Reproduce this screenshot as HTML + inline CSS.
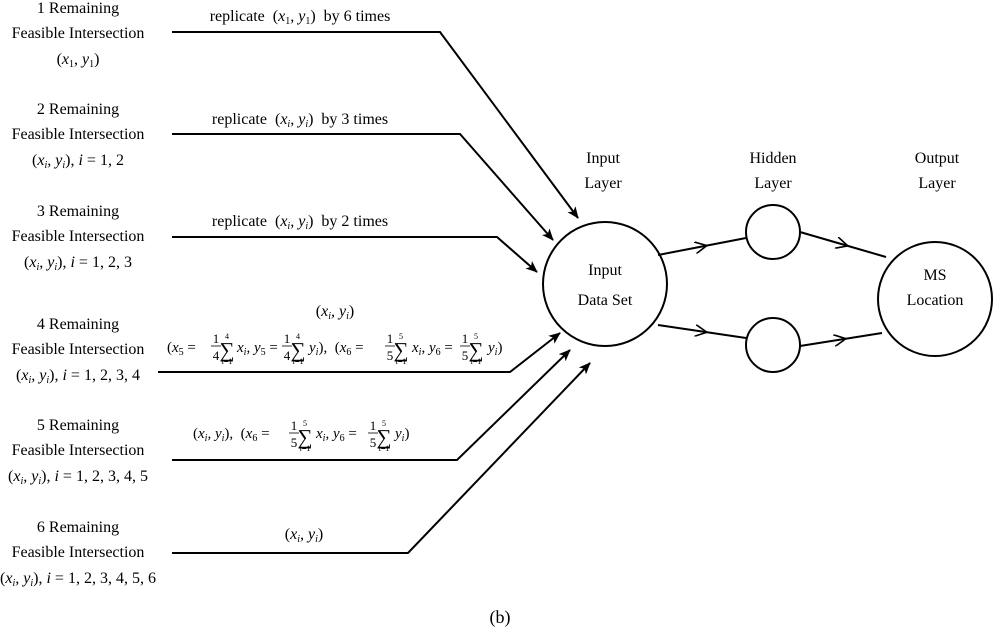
<!DOCTYPE html>
<html><head><meta charset="utf-8"><style>
body{margin:0;background:#fff}
svg{display:block}
text{font-family:"Liberation Serif",serif;font-size:16px;fill:#000}
.i{font-style:italic}
.s{font-size:10px}
.t{font-size:8px}
.f{font-size:13px}
.g{font-size:21px}
.m{font-size:15px}
</style></head><body>
<svg width="1000" height="631" viewBox="0 0 1000 631" font-family="Liberation Serif, serif">
<defs>
<marker id="a" markerWidth="12" markerHeight="10" refX="11" refY="5" orient="auto" markerUnits="userSpaceOnUse">
<path d="M0,0 L12,5 L0,10 L3,5 Z" fill="#000"/></marker>
<marker id="m" markerWidth="14" markerHeight="12" refX="7" refY="6" orient="auto" markerUnits="userSpaceOnUse">
<path d="M0,0 L12,6 L0,12" fill="none" stroke="#000" stroke-width="1.6"/></marker>
</defs>
<g fill="none" stroke="#000" stroke-width="2">
<polyline points="172,32 440,32 578,218" marker-end="url(#a)"/>
<polyline points="172,134 460,134 553,240" marker-end="url(#a)"/>
<polyline points="172,237 497,237 537,272" marker-end="url(#a)"/>
<polyline points="158,372 510,372 560,333" marker-end="url(#a)"/>
<polyline points="172,460 457,460 570,350" marker-end="url(#a)"/>
<polyline points="172,553 408,553 590,363" marker-end="url(#a)"/>
<circle cx="605" cy="284" r="62"/>
<circle cx="773" cy="232" r="27"/>
<circle cx="773" cy="345" r="27"/>
<circle cx="935" cy="299" r="57"/>
<polyline points="658,255 702,246.5 746,238" marker-mid="url(#m)"/>
<polyline points="658,325 702,331.5 746,338" marker-mid="url(#m)"/>
<polyline points="800,232 843,244.5 886,257" marker-mid="url(#m)"/>
<polyline points="800,346 841,339.5 882,333" marker-mid="url(#m)"/>
</g>
<g text-anchor="middle">
<text x="78" y="13">1 Remaining</text>
<text x="78" y="38">Feasible Intersection</text>
<text x="78" y="64">(<tspan class="i">x</tspan><tspan class="s" dy="3">1</tspan><tspan dy="-3">, </tspan><tspan class="i">y</tspan><tspan class="s" dy="3">1</tspan><tspan dy="-3">)</tspan></text>
<text x="78" y="114">2 Remaining</text>
<text x="78" y="139">Feasible Intersection</text>
<text x="78" y="165">(<tspan class="i">x<tspan class="s" dy="3">i</tspan><tspan dy="-3">, y</tspan><tspan class="s" dy="3">i</tspan></tspan><tspan dy="-3">), </tspan><tspan class="i">i</tspan> = 1, 2</text>
<text x="78" y="216">3 Remaining</text>
<text x="78" y="241">Feasible Intersection</text>
<text x="78" y="267">(<tspan class="i">x<tspan class="s" dy="3">i</tspan><tspan dy="-3">, y</tspan><tspan class="s" dy="3">i</tspan></tspan><tspan dy="-3">), </tspan><tspan class="i">i</tspan> = 1, 2, 3</text>
<text x="78" y="329">4 Remaining</text>
<text x="78" y="354">Feasible Intersection</text>
<text x="78" y="380">(<tspan class="i">x<tspan class="s" dy="3">i</tspan><tspan dy="-3">, y</tspan><tspan class="s" dy="3">i</tspan></tspan><tspan dy="-3">), </tspan><tspan class="i">i</tspan> = 1, 2, 3, 4</text>
<text x="78" y="430">5 Remaining</text>
<text x="78" y="455">Feasible Intersection</text>
<text x="78" y="481">(<tspan class="i">x<tspan class="s" dy="3">i</tspan><tspan dy="-3">, y</tspan><tspan class="s" dy="3">i</tspan></tspan><tspan dy="-3">), </tspan><tspan class="i">i</tspan> = 1, 2, 3, 4, 5</text>
<text x="78" y="532">6 Remaining</text>
<text x="78" y="557">Feasible Intersection</text>
<text x="78" y="583">(<tspan class="i">x<tspan class="s" dy="3">i</tspan><tspan dy="-3">, y</tspan><tspan class="s" dy="3">i</tspan></tspan><tspan dy="-3">), </tspan><tspan class="i">i</tspan> = 1, 2, 3, 4, 5, 6</text>

<text x="300" y="21">replicate &#160;(<tspan class="i">x</tspan><tspan class="s" dy="3">1</tspan><tspan dy="-3">, </tspan><tspan class="i">y</tspan><tspan class="s" dy="3">1</tspan><tspan dy="-3">) &#160;by 6 times</tspan></text>
<text x="300" y="124">replicate &#160;(<tspan class="i">x<tspan class="s" dy="3">i</tspan><tspan dy="-3">, y</tspan><tspan class="s" dy="3">i</tspan></tspan><tspan dy="-3">) &#160;by 3 times</tspan></text>
<text x="300" y="226">replicate &#160;(<tspan class="i">x<tspan class="s" dy="3">i</tspan><tspan dy="-3">, y</tspan><tspan class="s" dy="3">i</tspan></tspan><tspan dy="-3">) &#160;by 2 times</tspan></text>
<text x="335" y="316">(<tspan class="i">x<tspan class="s" dy="3">i</tspan><tspan dy="-3">, y</tspan><tspan class="s" dy="3">i</tspan></tspan><tspan dy="-3">)</tspan></text>
<text x="304" y="539">(<tspan class="i">x<tspan class="s" dy="3">i</tspan><tspan dy="-3">, y</tspan><tspan class="s" dy="3">i</tspan></tspan><tspan dy="-3">)</tspan></text>

<text x="603" y="163">Input</text>
<text x="603" y="188">Layer</text>
<text x="773" y="163">Hidden</text>
<text x="773" y="188">Layer</text>
<text x="937" y="163">Output</text>
<text x="937" y="188">Layer</text>
<text x="605" y="275">Input</text>
<text x="605" y="305">Data Set</text>
<text x="935" y="280">MS</text>
<text x="935" y="305">Location</text>
<text x="500" y="623" style="font-size:18px">(b)</text>

<text class="f" x="216" y="343">1</text><text class="f" x="216" y="360">4</text>
<text class="g" x="227" y="357">∑</text><text class="t" x="227" y="339">4</text><text class="t" x="227" y="364">i=1</text>
<text class="f" x="287" y="343">1</text><text class="f" x="287" y="360">4</text>
<text class="g" x="298" y="357">∑</text><text class="t" x="298" y="339">4</text><text class="t" x="298" y="364">i=1</text>
<text class="f" x="390" y="343">1</text><text class="f" x="390" y="360">5</text>
<text class="g" x="401" y="357">∑</text><text class="t" x="401" y="339">5</text><text class="t" x="401" y="364">i=1</text>
<text class="f" x="465" y="343">1</text><text class="f" x="465" y="360">5</text>
<text class="g" x="476" y="357">∑</text><text class="t" x="476" y="339">5</text><text class="t" x="476" y="364">i=1</text>
<text class="f" x="294" y="430">1</text><text class="f" x="294" y="447">5</text>
<text class="g" x="305" y="444">∑</text><text class="t" x="305" y="426">5</text><text class="t" x="305" y="451">i=1</text>
<text class="f" x="373" y="430">1</text><text class="f" x="373" y="447">5</text>
<text class="g" x="384" y="444">∑</text><text class="t" x="384" y="426">5</text><text class="t" x="384" y="451">i=1</text>
</g>
<g stroke="#000" stroke-width="0.8">
<line x1="211" y1="346" x2="221" y2="346"/><line x1="282" y1="346" x2="292" y2="346"/>
<line x1="385" y1="346" x2="395" y2="346"/><line x1="460" y1="346" x2="470" y2="346"/>
<line x1="289" y1="433" x2="299" y2="433"/><line x1="368" y1="433" x2="378" y2="433"/>
</g>
<text class="m" x="167" y="352">(<tspan class="i">x</tspan><tspan class="s" dy="3">5</tspan><tspan dy="-3"> =</tspan></text>
<text class="m i" x="237" y="352">x<tspan class="s" dy="3">i</tspan><tspan dy="-3" style="font-style:normal">, </tspan>y<tspan class="s" dy="3" style="font-style:normal">5</tspan><tspan dy="-3" style="font-style:normal"> =</tspan></text>
<text class="m i" x="309" y="352">y<tspan class="s" dy="3">i</tspan><tspan dy="-3" style="font-style:normal">), &#160;(</tspan>x<tspan class="s" dy="3" style="font-style:normal">6</tspan><tspan dy="-3" style="font-style:normal"> =</tspan></text>
<text class="m i" x="412" y="352">x<tspan class="s" dy="3">i</tspan><tspan dy="-3" style="font-style:normal">, </tspan>y<tspan class="s" dy="3" style="font-style:normal">6</tspan><tspan dy="-3" style="font-style:normal"> =</tspan></text>
<text class="m i" x="488" y="352">y<tspan class="s" dy="3">i</tspan><tspan dy="-3" style="font-style:normal">)</tspan></text>
<text class="m" x="193" y="438">(<tspan class="i">x<tspan class="s" dy="3">i</tspan><tspan dy="-3">, y</tspan><tspan class="s" dy="3">i</tspan></tspan><tspan dy="-3">), &#160;(</tspan><tspan class="i">x</tspan><tspan class="s" dy="3">6</tspan><tspan dy="-3"> =</tspan></text>
<text class="m i" x="316" y="438">x<tspan class="s" dy="3">i</tspan><tspan dy="-3" style="font-style:normal">, </tspan>y<tspan class="s" dy="3" style="font-style:normal">6</tspan><tspan dy="-3" style="font-style:normal"> =</tspan></text>
<text class="m i" x="395" y="438">y<tspan class="s" dy="3">i</tspan><tspan dy="-3" style="font-style:normal">)</tspan></text>
</svg>
</body></html>
